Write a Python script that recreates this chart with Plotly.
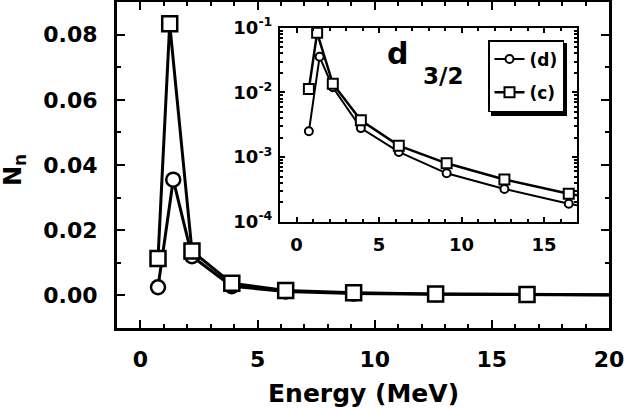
import plotly.graph_objects as go

# ---- data (last point lies beyond the plotted range) ----
c_x = [0.75, 1.25, 2.2, 3.9, 6.2, 9.1, 12.6, 16.5, 21.5]
c_vals = [0.0113, 0.0833, 0.0136, 0.0037, 0.0015, 0.0008, 0.00045, 0.00027, 0.00016]
d_x = [0.75, 1.4, 2.2, 3.9, 6.2, 9.1, 12.6, 16.5, 21.5]
d_vals = [0.0025, 0.0355, 0.012, 0.0028, 0.0012, 0.00056, 0.00032, 0.00019, 0.00011]

main_ytickvals = [0.0, 0.02, 0.04, 0.06, 0.08]
main_yticktext = ["0.00", "0.02", "0.04", "0.06", "0.08"]
main_xtickvals = [0, 5, 10, 15, 20]
main_xticktext = ["0", "5", "10", "15", "20"]
inset_xtickvals = [0, 5, 10, 15]
inset_xticktext = ["0", "5", "10", "15"]
inset_ytickvals = [1e-4, 1e-3, 1e-2, 1e-1]
inset_yticktext = ["10<sup>-4</sup>", "10<sup>-3</sup>", "10<sup>-2</sup>", "10<sup>-1</sup>"]

FONT = "DejaVu Sans"
W, H = 624, 408
L, R, T, B = 117, 15, 2, 80
PW, PH = W - L - R, H - T - B


def px2paper(px, py):
    return (px - L) / PW, (H - B - py) / PH


fig = go.Figure()

# main panel
fig.add_trace(go.Scatter(x=d_x, y=d_vals, mode="lines+markers", showlegend=False,
                         line=dict(color="black", width=3),
                         marker=dict(symbol="circle", size=14, color="white",
                                     line=dict(color="black", width=2.5)),
                         xaxis="x", yaxis="y"))
fig.add_trace(go.Scatter(x=c_x, y=c_vals, mode="lines+markers", showlegend=False,
                         line=dict(color="black", width=3),
                         marker=dict(symbol="square", size=15, color="white",
                                     line=dict(color="black", width=2.5)),
                         xaxis="x", yaxis="y"))

# inset
fig.add_trace(go.Scatter(x=d_x, y=d_vals, mode="lines+markers", name="(d)",
                         legendgroup="d",
                         line=dict(color="black", width=2),
                         marker=dict(symbol="circle", size=8, color="white",
                                     line=dict(color="black", width=2)),
                         xaxis="x2", yaxis="y2"))
fig.add_trace(go.Scatter(x=c_x, y=c_vals, mode="lines+markers", name="(c)",
                         legendgroup="c",
                         line=dict(color="black", width=2.5),
                         marker=dict(symbol="square", size=10, color="white",
                                     line=dict(color="black", width=2)),
                         xaxis="x2", yaxis="y2"))

ax_common = dict(showgrid=False, zeroline=False, showline=True, linecolor="black",
                 mirror="ticks", ticks="inside", tickcolor="black", automargin=False,
                 ticklabeloverflow="allow")

x0, x1 = (280 - L) / PW, (577 - L) / PW
y1, y0 = (H - B - 27.7) / PH, (H - B - 221.7) / PH

fig.update_layout(
    width=W, height=H, autosize=False,
    margin=dict(l=L, r=R, t=T, b=B, autoexpand=False),
    paper_bgcolor="white", plot_bgcolor="white",
    font=dict(family=FONT, color="black", weight="bold"),
    xaxis=dict(**ax_common, range=[-1, 20], tickvals=main_xtickvals, ticktext=main_xticktext,
               linewidth=3, ticklen=8, tickwidth=2,
               minor=dict(dtick=1, tick0=0, ticklen=4, tickwidth=2, ticks="inside", tickcolor="black"),
               tickfont=dict(family=FONT, size=22, weight="bold"),
               ticklabelstandoff=10),
    yaxis=dict(**ax_common, range=[-0.01, 0.09], tickvals=main_ytickvals,
               ticktext=main_yticktext, linewidth=3, ticklen=8, tickwidth=2,
               minor=dict(dtick=0.01, tick0=0, ticklen=4, tickwidth=2, ticks="inside", tickcolor="black"),
               tickfont=dict(family=FONT, size=22, weight="bold"),
               ticklabelstandoff=12),
    xaxis2=dict(**ax_common, domain=[x0, x1], anchor="y2", range=[-1, 17],
                tickvals=inset_xtickvals, ticktext=inset_xticktext,
                linewidth=2, ticklen=5, tickwidth=1.5,
                minor=dict(dtick=1, tick0=0, ticklen=3, tickwidth=1.5, ticks="inside", tickcolor="black"),
                tickfont=dict(family=FONT, size=18, weight="bold"),
                ticklabelstandoff=6),
    yaxis2=dict(**ax_common, domain=[y0, y1], anchor="x2", type="log", range=[-4, -1],
                tickvals=inset_ytickvals, ticktext=inset_yticktext,
                linewidth=2, ticklen=5, tickwidth=1.5,
                minor=dict(tickvals=[k * 10 ** e for e in (-4, -3, -2) for k in range(2, 10)],
                           ticklen=3, tickwidth=1.5, ticks="inside", tickcolor="black"),
                tickfont=dict(family=FONT, size=18, weight="bold"),
                ticklabelstandoff=2),
    legend=dict(x=(488 - L) / PW, y=(H - B - 40) / PH, xanchor="left", yanchor="top",
                bgcolor="white", bordercolor="black", borderwidth=1.5,
                font=dict(family=FONT, size=17, weight="bold"),
                traceorder="grouped", tracegroupgap=8, itemwidth=30),
)

# axis titles as annotations
fig.add_annotation(text="Energy (MeV)", xref="paper", yref="paper",
                   x=0.5, y=px2paper(0, 393)[1], xanchor="center", yanchor="middle",
                   showarrow=False, font=dict(family=FONT, size=25, weight="bold"))
nx, ny = px2paper(14, 170)
fig.add_annotation(text="N<sub>n</sub>", xref="paper", yref="paper", x=nx, y=ny,
                   xanchor="center", yanchor="middle", textangle=-90, showarrow=False,
                   font=dict(family=FONT, size=24, weight="bold"))

# d_{3/2} label
dx, dy = px2paper(397.5, 54)
fig.add_annotation(text="d", xref="paper", yref="paper", x=dx, y=dy,
                   xanchor="center", yanchor="middle", showarrow=False,
                   font=dict(family=FONT, size=30, weight="bold"))
sx, sy = px2paper(443, 76)
fig.add_annotation(text="3/2", xref="paper", yref="paper", x=sx, y=sy,
                   xanchor="center", yanchor="middle", showarrow=False,
                   font=dict(family=FONT, size=23, weight="bold"))

# legend drop shadow
ax0, ay0 = px2paper(491, 116)
ax1, ay1 = px2paper(567, 43)
fig.add_shape(type="rect", xref="paper", yref="paper", x0=ax0, y0=ay0, x1=ax1, y1=ay1,
              fillcolor="black", line=dict(width=0), layer="above")

fig.write_html("out.html", config={"displayModeBar": False},
               post_script="document.body.style.margin='0';document.body.style.padding='0';")
